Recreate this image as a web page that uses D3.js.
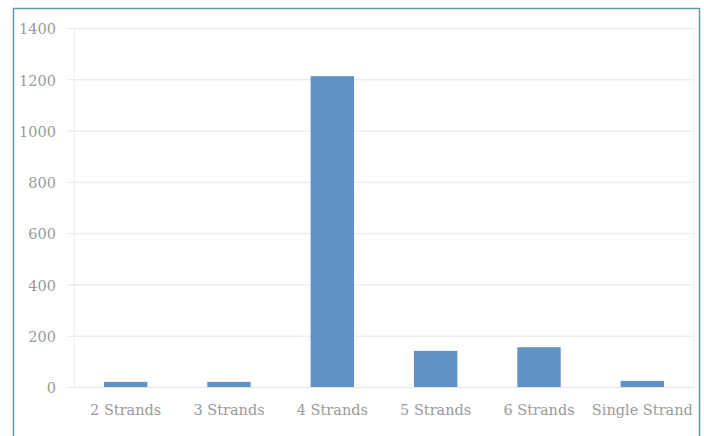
<!DOCTYPE html>
<html><head><meta charset="utf-8">
<script src="https://cdn.jsdelivr.net/npm/d3@7"></script>
<style>
html,body{margin:0;padding:0;background:#fff;}
svg{display:block;}
</style></head>
<body>
<svg id="c" width="704" height="436"></svg>
<script>
const categories = ["2 Strands","3 Strands","4 Strands","5 Strands","6 Strands","Single Strand"];
const values = [20, 20, 1212, 141, 155, 24];
const yTicks = [0,200,400,600,800,1000,1200,1400];

const svg = d3.select("#c");
const W = 704, H = 436;
const m = {left:74, right:10, top:28, bottom:49};
const x = d3.scaleBand().domain(categories).range([m.left, W - m.right]).paddingInner(0.58).paddingOuter(0.29);
const y = d3.scaleLinear().domain([0,1400]).range([H - m.bottom, m.top]);

// frame
svg.append("rect").attr("x",13.5).attr("y",8.5).attr("width",686).attr("height",440)
  .attr("fill","none").attr("stroke","#5f9aa8").attr("stroke-width",1.5);

const font = "'DejaVu Serif', serif";

// gridlines
const yAxis = d3.axisLeft(y).tickValues(yTicks).tickFormat(d3.format("d"))
  .tickSize(-(W - m.right - m.left)).tickPadding(18).tickSizeOuter(0);
const gy = svg.append("g").attr("transform",`translate(${m.left},0)`).call(yAxis);
gy.select(".domain").attr("stroke","#ececec");
gy.selectAll(".tick line").attr("stroke","#e8e6e4").attr("x1",-7);
gy.selectAll(".tick text").attr("fill","#9a9a9a").attr("font-family",font).attr("font-size",14.5).attr("dy","0.4em");

// right border of plot
svg.append("line").attr("x1",W-m.right).attr("x2",W-m.right).attr("y1",m.top).attr("y2",H-m.bottom).attr("stroke","#ececec");

// bars
svg.append("g").selectAll("rect").data(values).join("rect")
  .attr("x",(d,i)=>x(categories[i]))
  .attr("width",x.bandwidth())
  .attr("y",d=>y(d))
  .attr("height",d=>y(0)-y(d))
  .attr("fill","#6192c5");

// x axis labels
const xAxis = d3.axisBottom(x).tickSize(0).tickPadding(18);
const gx = svg.append("g").attr("transform",`translate(0,${H-m.bottom})`).call(xAxis);
gx.select(".domain").attr("stroke","#e4e4e4");
gx.selectAll(".tick text").attr("fill","#9a9a9a").attr("font-family",font).attr("font-size",14.5);
</script>
</body></html>
